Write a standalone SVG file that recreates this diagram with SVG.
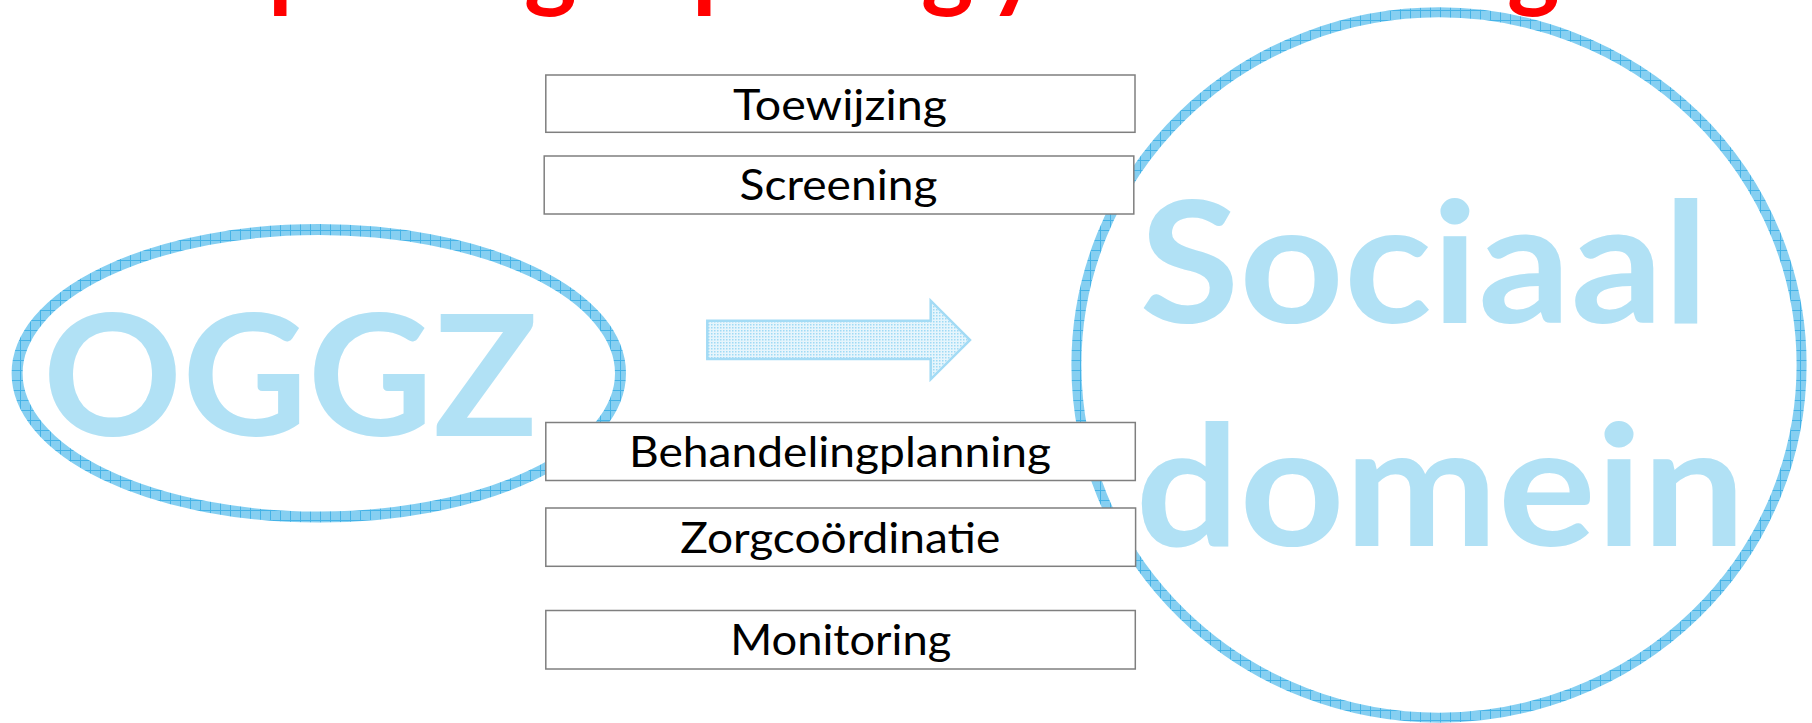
<svg xmlns="http://www.w3.org/2000/svg" width="1812" height="723" viewBox="0 0 1812 723">
<defs>
<pattern id="mesh" patternUnits="userSpaceOnUse" width="10" height="10">
<rect width="10" height="10" fill="#86cff1"/>
<path d="M0 0.5H10M0.5 0V10" stroke="#45b3e7" stroke-width="1"/>
</pattern>
<pattern id="dots" patternUnits="userSpaceOnUse" width="3" height="3">
<rect width="3" height="3" fill="#e6f5fc"/>
<rect width="1.5" height="1.5" fill="#9fdaf5"/>
</pattern>
<style>
.box{fill:#ffffff;stroke:#7f7f7f;stroke-width:1.5}
.lbl{font-family:Lato,"Open Sans","Liberation Sans",sans-serif;font-size:43px;fill:#000000;text-anchor:middle}
.big{font-family:Lato,"Open Sans","Liberation Sans",sans-serif;font-weight:bold;font-size:168px;fill:#b1e1f5;text-anchor:middle}
.ring{fill:none;stroke:url(#mesh)}
.title{font-family:Lato,"Liberation Sans",sans-serif;font-weight:bold;font-size:100px;fill:#ff0000}
</style>
</defs>
<rect width="1812" height="723" fill="#ffffff"/>
<g id="title">
<text class="title" y="-1"><tspan x="268">p</tspan><tspan x="524">g</tspan><tspan x="692">p</tspan><tspan x="921">g</tspan><tspan x="988">y</tspan><tspan x="1507">g</tspan></text>
</g>
<g id="sociaal-domein">
<ellipse class="ring" cx="1439" cy="365" rx="362.6" ry="352.7" stroke-width="10"/>
<text class="big" x="1424" y="322.7" textLength="569" lengthAdjust="spacingAndGlyphs">Sociaal</text>
<text class="big" x="1440.5" y="546.3" textLength="610" lengthAdjust="spacingAndGlyphs">domein</text>
</g>
<g id="oggz">
<ellipse class="ring" cx="318.8" cy="373.3" rx="301.7" ry="143.8" stroke-width="11"/>
<text class="big" x="290.3" y="435.7" textLength="495" lengthAdjust="spacingAndGlyphs">OGGZ</text>
</g>
<g id="connectors">
<polygon points="707.3,320.7 930.7,320.7 930.7,300.7 970,340 930.7,379.3 930.7,359 707.3,359" fill="url(#dots)" stroke="#a3dbf5" stroke-width="2.5"/>
</g>
<g id="toewijzing">
<rect class="box" x="545.8" y="75" width="589.2" height="57.3"/>
<text class="lbl" x="840" y="120" textLength="214" lengthAdjust="spacingAndGlyphs">Toewijzing</text>
</g>
<g id="screening">
<rect class="box" x="544.2" y="156" width="589.6" height="58"/>
<text class="lbl" x="838.5" y="200" textLength="198" lengthAdjust="spacingAndGlyphs">Screening</text>
</g>
<g id="behandelingplanning">
<rect class="box" x="545.8" y="422.5" width="589.5" height="58"/>
<text class="lbl" x="840" y="466.7" textLength="422" lengthAdjust="spacingAndGlyphs">Behandelingplanning</text>
</g>
<g id="zorgcoordinatie">
<rect class="box" x="545.8" y="508" width="589.8" height="58.3"/>
<text class="lbl" x="840.3" y="552.7" textLength="320" lengthAdjust="spacingAndGlyphs">Zorgcoördinatie</text>
</g>
<g id="monitoring">
<rect class="box" x="545.8" y="610.5" width="589.5" height="58.5"/>
<text class="lbl" x="840.7" y="655" textLength="221" lengthAdjust="spacingAndGlyphs">Monitoring</text>
</g>
</svg>
